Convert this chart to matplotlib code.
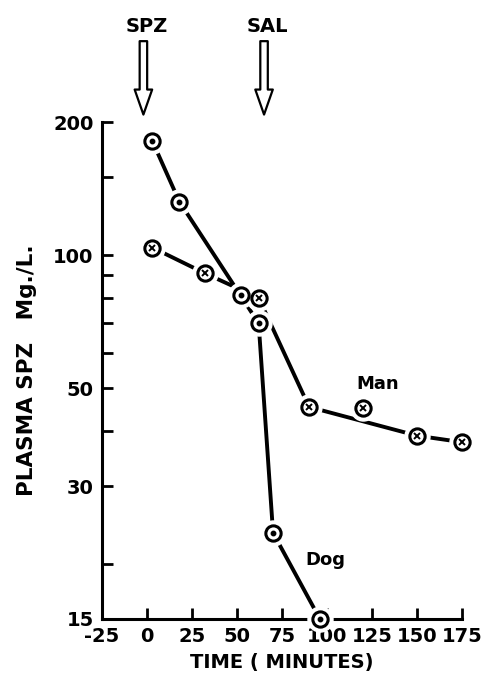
import matplotlib
matplotlib.use('Agg')
import matplotlib.pyplot as plt
import numpy as np

plt.rcParams['font.family'] = 'DejaVu Sans'
plt.rcParams['font.weight'] = 'bold'
plt.rcParams['axes.labelweight'] = 'bold'

# dog: circle with dot
dog_t = [3, 18, 52, 62, 70, 96]
dog_c = [181, 132, 81, 70, 23.5, 15]
# man: circle with x
man_t = [3, 32, 62, 90, 120, 150, 175]
man_c = [104, 91, 80, 45.3, 45, 39, 37.7]
man_on_line = [True, True, True, True, False, True, True]

yticks = [15, 30, 50, 100, 200]
yminor = [20, 40, 60, 70, 80, 90, 150]
xticks = [-25, 0, 25, 50, 75, 100, 125, 150, 175]

doses = [('SPZ', -2), ('SAL', 65)]

fig = plt.figure(figsize=(4.88, 6.86), dpi=100)
ax = fig.add_axes([0.209, 0.0977, 0.738, 0.7243])
ax.set_yscale('log')
ax.set_xlim(-25, 175)
ax.set_ylim(15, 200)

mt = np.array(man_t)[man_on_line]
mc = np.array(man_c)[man_on_line]
ax.plot(dog_t, dog_c, color='black', lw=2.8, zorder=2, solid_capstyle='butt')
ax.plot(mt, mc, color='black', lw=2.8, zorder=2, solid_capstyle='butt')

# white halo so lines stop short of the symbols
for t, c in [(dog_t, dog_c), (man_t, man_c)]:
    ax.plot(t, c, 'o', ms=18, mfc='white', mec='white', zorder=3, clip_on=False)
    ax.plot(t, c, 'o', ms=11, mfc='white', mec='black', mew=2.2, zorder=4, clip_on=False)
ax.plot(dog_t, dog_c, 'o', ms=3.2, color='black', zorder=5, clip_on=False)
ax.plot(man_t, man_c, 'x', ms=5, color='black', mew=1.4, zorder=5, clip_on=False)

ax.text(128, 51, 'Man', fontsize=13, ha='center', va='center')
ax.text(99, 20.4, 'Dog', fontsize=13, ha='center', va='center')

ax.set_yticks(yticks)
ax.set_yticklabels([str(v) for v in yticks])
ax.set_yticks(yminor, minor=True)
ax.set_yticklabels([], minor=True)
ax.set_xticks(xticks)
ax.set_xticklabels([str(v) for v in xticks])
ax.tick_params(which='both', direction='in', length=8, width=2, labelsize=14, pad=6)

for s in ['top', 'right']:
    ax.spines[s].set_visible(False)
for s in ['left', 'bottom']:
    ax.spines[s].set_linewidth(2.2)

ax.set_xlabel('TIME ( MINUTES)', fontsize=14, labelpad=5)
ax.set_ylabel('PLASMA SPZ   Mg./L.', fontsize=15.5, labelpad=12)

# dose arrows above the plot
blend = matplotlib.transforms.blended_transform_factory(ax.transData, fig.transFigure)
for name, x in doses:
    ax.annotate('', xy=(x, 0.833), xytext=(x, 0.94),
                xycoords=('data', 'figure fraction'),
                textcoords=('data', 'figure fraction'),
                arrowprops=dict(arrowstyle='simple,head_length=1.5,head_width=1.05,tail_width=0.45',
                                fc='white', ec='black', lw=1.6,
                                shrinkA=0, shrinkB=0, mutation_scale=12),
                annotation_clip=False)
    ax.text(x + 2, 0.962, name, fontsize=14, ha='center', va='center', transform=blend)

fig.savefig('out.png', dpi=100)
